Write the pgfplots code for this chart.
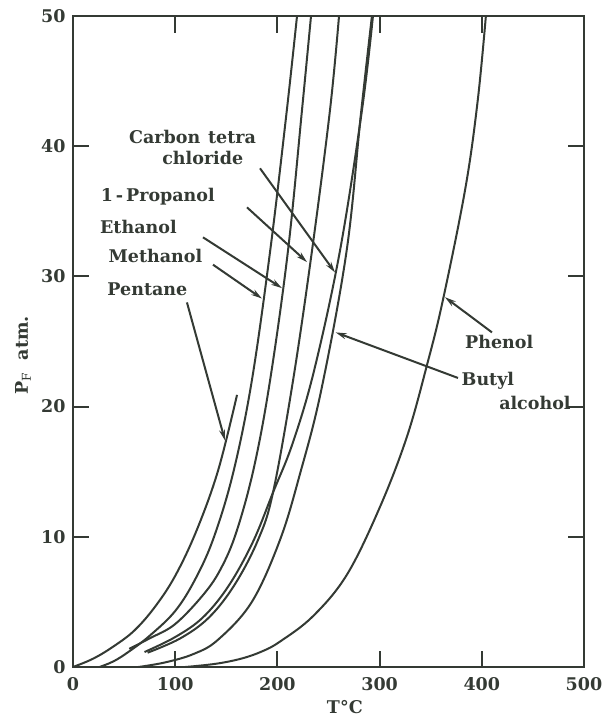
\documentclass[border=0pt]{standalone}
\usepackage{pgfplots}
\pgfplotsset{compat=1.18}
\usepackage{fontspec}
\setmainfont{DejaVu Serif}
\usetikzlibrary{arrows.meta}
\definecolor{ink}{RGB}{52,58,52}
\begin{document}
\begin{tikzpicture}
\path[use as bounding box] (-73pt,-57pt) rectangle (530pt,667pt);
\begin{axis}[
  at={(0,0)}, anchor=south west,
  scale only axis, width=511pt, height=651pt,
  xmin=0, xmax=500, ymin=0, ymax=50,
  xtick={0,100,...,500}, ytick={0,10,...,50},
  tick align=inside, major tick length=16pt,
  axis line style={line width=2.2pt, color=ink},
  tick style={line width=2pt, color=ink},
  /pgf/number format/assume math mode=true,
  ticklabel style={font=\fontsize{17.5}{20}\selectfont\bfseries, color=ink},
  xticklabel style={yshift=-7pt},
  yticklabel style={xshift=-4pt},
  xlabel={T\textdegree C},
  ylabel={P$_{\mathrm{F}}$\ \ atm.},
  label style={font=\fontsize{17.5}{20}\selectfont\bfseries, color=ink},
  xlabel style={at={(axis description cs:0.532,-0.0614)}, anchor=center},
  ylabel style={at={(axis description cs:-0.098,0.479)}, anchor=center},
  curve/.style={line width=2pt, color=ink, mark=none, smooth, tension=0.6},
  clip=false,
]
% Pentane
\addplot[curve] coordinates {(0,0) (20,0.65) (40,1.6) (60,2.8) (80,4.6) (100,7.0) (121,10.5) (142,15.1) (160.5,20.9)};
% Methanol
\addplot[curve] coordinates {(26,0) (40,0.45) (55,1.2) (75,2.4) (100,4.3) (120,6.8) (138,10.0) (157,15.0) (175,22.0) (193,32.0) (209,42.6) (219.2,50)};
% Ethanol
\addplot[curve] coordinates {(55,1.4) (75,2.2) (100,3.3) (128,5.6) (145,7.6) (160,10.4) (177,15.3) (192.8,22) (210.4,32) (224.1,42.8) (232.9,50)};
% 1-Propanol
\addplot[curve] coordinates {(73,1.1) (105,2.2) (133,3.8) (158,6.3) (181,9.75) (195.7,13.4) (215.3,22) (233.9,32) (251.5,42.8) (260.3,50)};
% Carbon tetrachloride
\addplot[curve] coordinates {(70,1.15) (100,2.3) (127,3.8) (152,6.2) (176,9.6) (195.7,13.4) (215,17.2) (236,22.8) (261.3,32) (282.8,42.8) (293.5,50)};
% Butyl alcohol
\addplot[curve] coordinates {(64,0) (90,0.35) (118,1.0) (142,2.1) (175,5.0) (202.5,9.75) (222,14.8) (243,21.3) (267.8,32) (281.5,42.3) (292.5,50)};
% Phenol
\addplot[curve] coordinates {(110,0) (140,0.25) (165,0.65) (185,1.2) (202.5,1.95) (234.8,3.9) (268.1,7.1) (300.4,12.3) (326.8,17.7) (346.4,23.2) (362,28.2) (384,36.8) (396,43.5) (404,50)};

% inward ticks
\pgfplotsinvokeforeach{100,200,300,400}{
  \draw[line width=2pt, color=ink] (axis cs:#1,0) -- (axis cs:#1,1.1);
  \draw[line width=2pt, color=ink] (axis cs:#1,50) -- (axis cs:#1,48.7);
}
\pgfplotsinvokeforeach{10,20,30,40}{
  \draw[line width=2pt, color=ink] (axis cs:0,#1) -- (axis cs:16,#1);
  \draw[line width=2pt, color=ink] (axis cs:500,#1) -- (axis cs:484,#1);
}

\begin{scope}[font=\fontsize{17.5}{20}\selectfont\bfseries, color=ink]
\node at (axis cs:117,40.7) {Carbon\hspace{0.45em}tetra};
\node at (axis cs:127,39.1) {chloride};
\node at (axis cs:83,36.1) {1\,-\,Propanol};
\node at (axis cs:64,33.8) {Ethanol};
\node at (axis cs:80.6,31.6) {Methanol};
\node at (axis cs:72.8,29.0) {Pentane};
\node at (axis cs:417,25.0) {Phenol};
\node at (axis cs:406,22.0) {Butyl};
\node at (axis cs:452,20.3) {alcohol};
\end{scope}
\begin{scope}[line width=2pt, color=ink, -{Stealth[length=11pt,width=6pt]}]
\draw (axis cs:111.5,28.0) -- (axis cs:148.7,17.4);
\draw (axis cs:137,30.9) -- (axis cs:184.9,28.3);
\draw (axis cs:127.2,33.0) -- (axis cs:204.5,29.1);
\draw (axis cs:170.3,35.3) -- (axis cs:229,31.1);
\draw (axis cs:183,38.3) -- (axis cs:256.4,30.3);
\draw (axis cs:376.7,22.2) -- (axis cs:257,25.7);
\draw (axis cs:410,25.7) -- (axis cs:364,28.4);
\end{scope}
\end{axis}
\end{tikzpicture}
\end{document}
